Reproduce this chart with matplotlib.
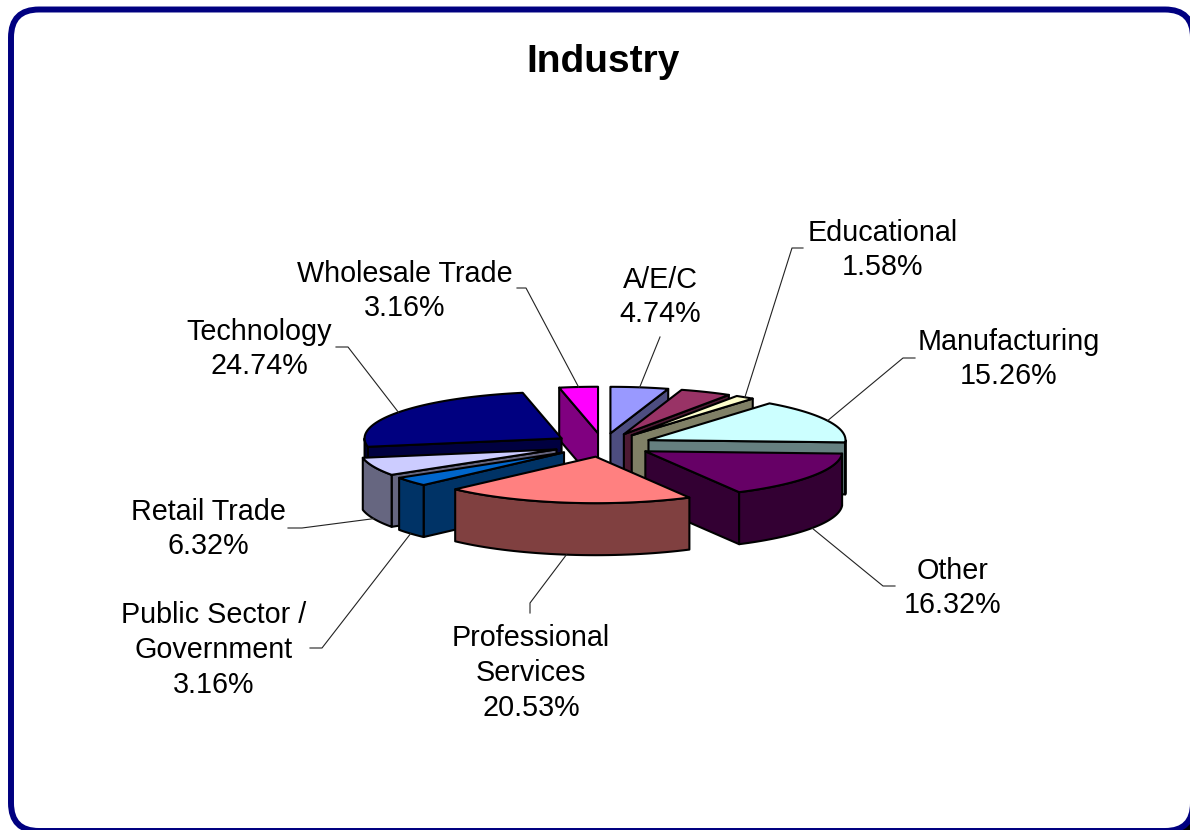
# -*- coding: utf-8 -*-
import numpy as np
import matplotlib
matplotlib.use("Agg")
import matplotlib.pyplot as plt
from matplotlib.patches import FancyBboxPatch, Polygon

plt.rcParams["font.family"] = ["Liberation Sans", "DejaVu Sans"]

# data, clockwise from 12 o'clock
names = ["A/E/C", "", "Educational", "Manufacturing", "Other",
         "Professional\nServices", "Public Sector /\nGovernment",
         "Retail Trade", "Technology", "Wholesale Trade"]
shares = [4.74, 4.21, 1.58, 15.26, 16.32, 20.53, 3.16, 6.32, 24.74, 3.16]

top_colors = ["#9999FF", "#993366", "#FFFFCC", "#CCFFFF", "#660066",
              "#FF8080", "#0066CC", "#CCCCFF", "#000080", "#FF00FF"]
side_colors = ["#4D4D80", "#4D1A33", "#808066", "#668080", "#330033",
               "#804040", "#003366", "#666680", "#000040", "#800080"]

# pie geometry in pixels
cx, cy = 603, 445
rx, ry = 197, 46.5
depth = 52
explode = 0.254

# painter's order, back to front
draw_order = [9, 0, 1, 2, 3, 8, 7, 6, 4, 5]

# label centre and leader elbow points, same order as names
label_pos = [(660, 297), None, (883, 250), (1009, 359), (953, 588),
             (531, 673), (214, 650), (208, 529), (259, 349), (405, 291)]
leader_pts = [[(660, 337)], None, [(792, 248), (803, 248)],
              [(903, 358), (915, 358)], [(883, 586), (895, 586)],
              [(530, 603), (530, 613)], [(322, 648), (310, 648)],
              [(302, 528), (288, 528)], [(348, 347), (336, 347)],
              [(526, 288), (517, 288)]]

fig = plt.figure(figsize=(11.9, 8.3), dpi=100)
ax = fig.add_axes([0, 0, 1, 1])
ax.set_xlim(0, 1190)
ax.set_ylim(830, 0)
ax.axis("off")

# frame with a black shadow behind it
shadow = FancyBboxPatch((21, 20), 1182, 821, boxstyle="round,pad=0,rounding_size=28",
                        fc="black", ec="black", lw=0)
frame = FancyBboxPatch((11, 9.5), 1182, 821.5, boxstyle="round,pad=0,rounding_size=28",
                       fc="white", ec="#000080", lw=4.3)
ax.add_patch(shadow)
ax.add_patch(frame)

ax.text(603, 58, "Industry", fontsize=28, fontweight="bold", ha="center", va="center_baseline")

edges = np.radians(np.cumsum([0] + shares) * 360.0 / sum(shares))


def apex_of(i):
    mid = (edges[i] + edges[i + 1]) / 2
    return cx + explode * rx * np.sin(mid), cy - explode * ry * np.cos(mid)


def rim(i, t):
    ax0, ay0 = apex_of(i)
    return ax0 + rx * np.sin(t), ay0 - ry * np.cos(t)


def wall(points, color, z):
    pts = list(points) + [(x, y + depth) for x, y in reversed(points)]
    ax.add_patch(Polygon(pts, closed=True, fc=color, ec="black", lw=1.5, joinstyle="round", zorder=z))


for z, i in enumerate(draw_order):
    z = z * 3 + 3
    t0, t1 = edges[i], edges[i + 1]
    apex = apex_of(i)
    # cut faces that look towards the viewer
    if np.sin(t0) < -1e-6:
        wall([apex, rim(i, t0)], side_colors[i], z)
    if np.sin(t1) > 1e-6:
        wall([apex, rim(i, t1)], side_colors[i], z)
    # outer wall, only the front half of the rim shows
    a, b = max(t0, np.pi / 2), min(t1, 3 * np.pi / 2)
    if b > a:
        ts = np.linspace(a, b, 40)
        wall([rim(i, t) for t in ts], side_colors[i], z + 1)
    ts = np.linspace(t0, t1, 60)
    top = [apex] + [rim(i, t) for t in ts]
    ax.add_patch(Polygon(top, closed=True, fc=top_colors[i], ec="black", lw=1.5,
                         joinstyle="round", zorder=z + 2))

# labels and leaders
for i, name in enumerate(names):
    if label_pos[i] is None:
        continue
    mid = (edges[i] + edges[i + 1]) / 2
    x0, y0 = rim(i, mid)
    if np.cos(mid) < 0:
        y0 += depth
    xs = [x0] + [p[0] for p in leader_pts[i]]
    ys = [y0] + [p[1] for p in leader_pts[i]]
    ax.plot(xs, ys, color="#222222", lw=0.8, zorder=40)
    ax.text(label_pos[i][0], label_pos[i][1], f"{name}\n{shares[i]:.2f}%", fontsize=20.7,
            ha="center", va="center", linespacing=1.3, zorder=41)

fig.savefig("out.png", dpi=100)
